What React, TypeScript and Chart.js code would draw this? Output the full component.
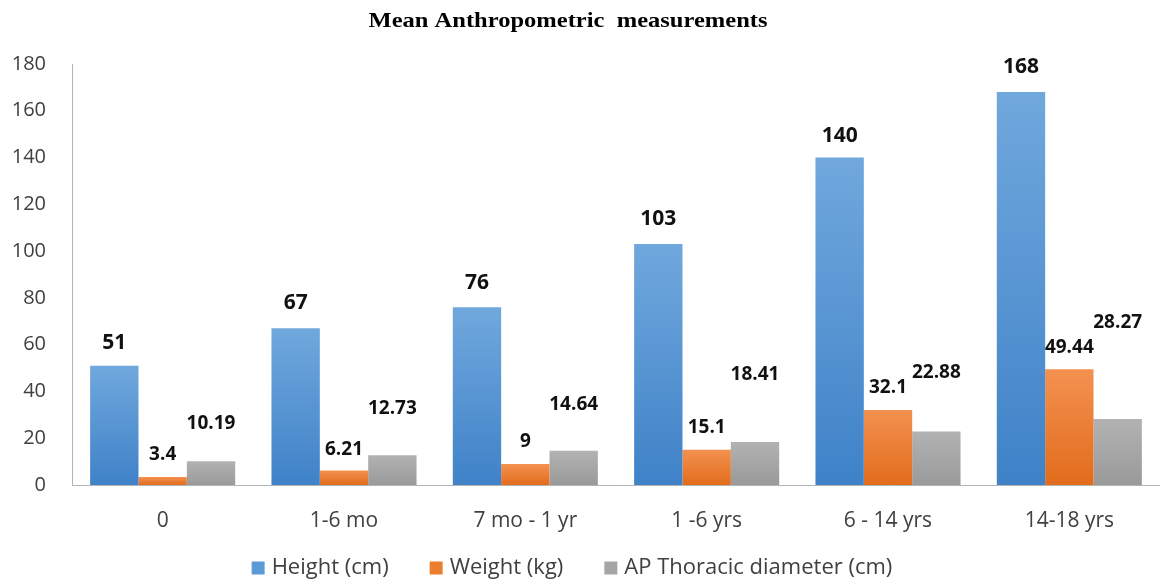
import React, { useEffect, useRef } from "react";
import { Chart, registerables } from "chart.js";

Chart.register(...registerables);

// ---- data ----
const categories = ["0", "1-6 mo", "7 mo - 1 yr", "1 -6 yrs", "6 - 14 yrs", "14-18 yrs"];
const heightCm = [51, 67, 76, 103, 140, 168];
const weightKg = [3.4, 6.21, 9, 15.1, 32.1, 49.44];
const apThoracicCm = [10.19, 12.73, 14.64, 18.41, 22.88, 28.27];
const yTicks = [0, 20, 40, 60, 80, 100, 120, 140, 160, 180];
const seriesNames = ["Height (cm)", "Weight (kg)", "AP Thoracic diameter (cm)"];
const titleText = "Mean Anthropometric  measurements";

// ---- styling ----
const gradTop = ["#70a8dd", "#f39150", "#b2b2b2"];
const gradBottom = ["#3f82c8", "#e26c1c", "#9a9a9a"];
const legendColors = ["#5b9bd5", "#ed7d31", "#a5a5a5"];
const labelFontSize = [21, 19, 19];
// pixel lift of value labels above each bar top (labels were hand-placed in the original)
const labelLift = [
  [23, 25, 24, 25, 22, 25],
  [22, 21, 22, 22, 22, 22],
  [38, 47, 46, 67, 59, 96],
];
const SANS = '"Open Sans", "DejaVu Sans", sans-serif';

function barGradient(index: number) {
  return (context: any) => {
    const chart = context.chart;
    const { ctx, chartArea, scales } = chart;
    if (!chartArea || !scales || !scales.y || context.type !== "data") return gradBottom[index];
    const v = context.raw as number;
    const top = scales.y.getPixelForValue(v);
    const bottom = scales.y.getPixelForValue(0);
    if (!isFinite(top) || !isFinite(bottom) || top === bottom) return gradBottom[index];
    const g = ctx.createLinearGradient(0, top, 0, bottom);
    g.addColorStop(0, gradTop[index]);
    g.addColorStop(1, gradBottom[index]);
    return g;
  };
}

const valueLabelPlugin = {
  id: "valueLabels",
  afterDatasetsDraw(chart: any) {
    const ctx = chart.ctx;
    ctx.save();
    ctx.fillStyle = "#111111";
    ctx.textAlign = "center";
    ctx.textBaseline = "middle";
    chart.data.datasets.forEach((ds: any, di: number) => {
      ctx.font = `bold ${labelFontSize[di]}px ${SANS}`;
      const meta = chart.getDatasetMeta(di);
      meta.data.forEach((bar: any, i: number) => {
        const v = ds.data[i];
        ctx.fillText(String(v), bar.x, bar.y - labelLift[di][i]);
      });
    });
    ctx.restore();
  },
};

const titleLegendPlugin = {
  id: "titleLegend",
  afterDraw(chart: any) {
    const ctx = chart.ctx;
    const W = chart.width;
    // title (stretched horizontally as in the original)
    ctx.save();
    ctx.font = 'bold 21px "Liberation Serif", "DejaVu Serif", serif';
    ctx.fillStyle = "#000000";
    ctx.textAlign = "center";
    ctx.textBaseline = "middle";
    const tw = ctx.measureText(titleText).width;
    const targetW = 399;
    ctx.translate(W / 2 - 12, 22);
    ctx.scale(targetW / tw, 1);
    ctx.fillText(titleText, 0, 0);
    ctx.restore();

    // legend
    ctx.save();
    ctx.font = `22px ${SANS}`;
    ctx.textBaseline = "middle";
    ctx.textAlign = "left";
    const box = 13;
    const gapBoxText = 7;
    const gapItems = 41;
    const widths = seriesNames.map((n) => ctx.measureText(n).width);
    let total = 0;
    widths.forEach((w, i) => {
      total += box + gapBoxText + w + (i < widths.length - 1 ? gapItems : 0);
    });
    let x = W / 2 - 8 - total / 2;
    const y = 568;
    seriesNames.forEach((n, i) => {
      ctx.fillStyle = legendColors[i];
      ctx.fillRect(x, y - box / 2, box, box);
      x += box + gapBoxText;
      ctx.fillStyle = "#404040";
      ctx.fillText(n, x, y);
      x += widths[i] + gapItems;
    });
    ctx.restore();
  },
};

export default function App() {
  const canvasRef = useRef<HTMLCanvasElement | null>(null);

  useEffect(() => {
    document.body.style.margin = "0";
    const canvas = canvasRef.current;
    if (!canvas) return;
    const datasets = [heightCm, weightKg, apThoracicCm].map((data, i) => ({
      label: seriesNames[i],
      data,
      backgroundColor: barGradient(i),
      borderWidth: 0,
      categoryPercentage: 0.8,
      barPercentage: 1.0,
    }));
    const chart = new Chart(canvas, {
      type: "bar",
      data: { labels: categories, datasets },
      options: {
        responsive: false,
        maintainAspectRatio: false,
        animation: false,
        devicePixelRatio: 1,
        layout: { padding: { top: 64, left: 0, right: 0, bottom: 0 } },
        plugins: {
          legend: { display: false },
          title: { display: false },
          tooltip: { enabled: false },
        },
        scales: {
          x: {
            grid: { display: false, drawTicks: false },
            border: { display: true, color: "#b4b4b4", width: 1 },
            ticks: {
              color: "#404040",
              font: { family: SANS, size: 21 },
              padding: 23,
              maxRotation: 0,
              autoSkip: false,
            },
            afterFit: (s: any) => {
              s.height = 100;
            },
          },
          y: {
            min: 0,
            max: 180,
            grid: { display: false, drawTicks: false },
            border: { display: true, color: "#b4b4b4", width: 1 },
            ticks: {
              color: "#404040",
              font: { family: SANS, size: 20 },
              padding: 26,
            },
            afterBuildTicks: (s: any) => {
              s.ticks = yTicks.map((v) => ({ value: v }));
            },
            afterFit: (s: any) => {
              s.width = 72;
            },
          },
        },
      },
      plugins: [valueLabelPlugin, titleLegendPlugin],
    });
    return () => chart.destroy();
  }, []);

  return (
    <div style={{ width: 1160, height: 585, background: "#ffffff" }}>
      <canvas ref={canvasRef} width={1160} height={585} style={{ display: "block" }} />
    </div>
  );
}
